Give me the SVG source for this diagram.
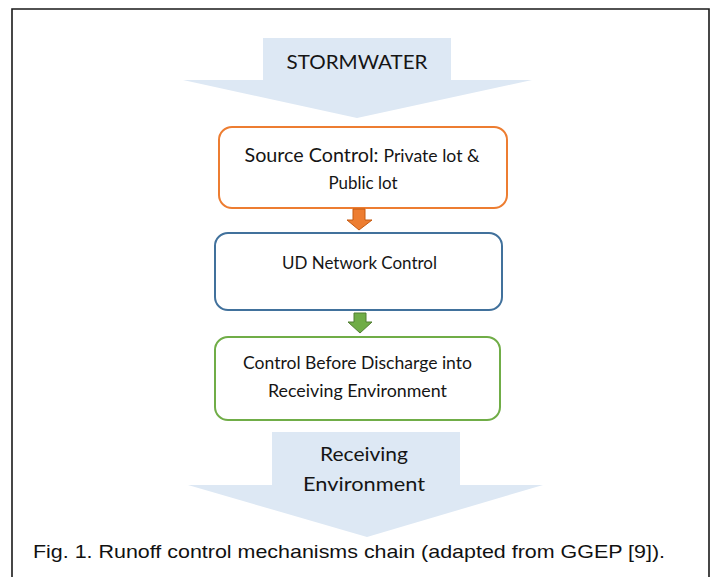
<svg xmlns="http://www.w3.org/2000/svg" width="712" height="577" viewBox="0 0 712 577">
  <style>
    .frame { fill: #ffffff; stroke: #1a1a1a; stroke-width: 1.6; }
    .flow { fill: #dde8f4; stroke: none; }
    .box { fill: #ffffff; stroke-width: 2; }
    .lbl { font-family: Lato, "Open Sans", "Liberation Sans", sans-serif; fill: #151515; text-anchor: middle; }
    .cap { font-family: "Liberation Sans", Arial, sans-serif; fill: #111111; font-size: 19px; }
  </style>

  <rect width="712" height="577" fill="#ffffff"/>
  <!-- figure frame (bottom edge runs off the page) -->
  <path class="frame" d="M12,585 V9 H709 V585"/>

  <!-- inflow arrow -->
  <g id="stormwater">
    <polygon class="flow" points="263,38 451,38 451,80 532,80 357,118 183,80 263,80"/>
    <text class="lbl" x="357" y="69" font-size="20" textLength="141" lengthAdjust="spacingAndGlyphs">STORMWATER</text>
  </g>

  <g id="source-control">
    <rect class="box" x="219" y="127" width="288" height="81" rx="13" stroke="#ed7d31"/>
    <text class="lbl" x="362" y="162" textLength="235" lengthAdjust="spacingAndGlyphs"><tspan font-size="18.5">Source Control: </tspan><tspan font-size="16.5">Private lot &amp;</tspan></text>
    <text class="lbl" x="363" y="189" font-size="16.5" textLength="69" lengthAdjust="spacingAndGlyphs">Public lot</text>
  </g>

  <g id="ud-network-control">
    <rect class="box" x="215" y="233" width="287" height="77" rx="13" stroke="#41719c"/>
    <text class="lbl" x="359.5" y="269" font-size="17" textLength="155" lengthAdjust="spacingAndGlyphs">UD Network Control</text>
  </g>

  <g id="control-before-discharge">
    <rect class="box" x="215" y="337" width="285" height="83" rx="13" stroke="#70ad47"/>
    <text class="lbl" x="357.5" y="369" font-size="17" textLength="229" lengthAdjust="spacingAndGlyphs">Control Before Discharge into</text>
    <text class="lbl" x="357.5" y="397" font-size="17" textLength="179" lengthAdjust="spacingAndGlyphs">Receiving Environment</text>
  </g>

  <!-- outflow arrow -->
  <g id="receiving-environment">
    <polygon class="flow" points="272,432 460,432 460,485 543,485 367,537 188,485 272,485"/>
    <text class="lbl" x="364" y="461" font-size="20" textLength="88" lengthAdjust="spacingAndGlyphs">Receiving</text>
    <text class="lbl" x="364" y="491" font-size="20" textLength="122" lengthAdjust="spacingAndGlyphs">Environment</text>
  </g>

  <!-- connectors between stages -->
  <g id="connectors">
    <polygon points="353,209 365,209 365,220 372,220 359,230 347,220 353,220" fill="#ed7d31" stroke="#c55a11" stroke-width="1"/>
    <polygon points="354,313 366,313 366,322 372,322 360,333 348,322 354,322" fill="#70ad47" stroke="#507e32" stroke-width="1"/>
  </g>

  <text class="cap" x="33" y="558" textLength="632" lengthAdjust="spacingAndGlyphs">Fig. 1. Runoff control mechanisms chain (adapted from GGEP [9]).</text>
</svg>
